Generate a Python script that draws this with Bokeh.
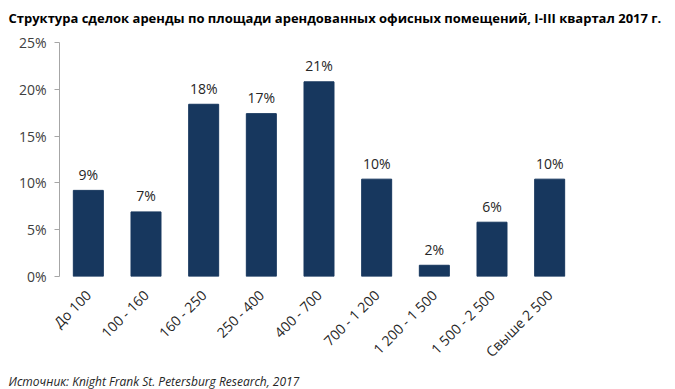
from bokeh.plotting import figure
from bokeh.models import Range1d, FactorRange, Title, PrintfTickFormatter, FixedTicker, ColumnDataSource
from bokeh.core.properties import value
from bokeh.embed import file_html
from bokeh.resources import INLINE
import math

categories = ["До 100", "100 - 160", "160 - 250", "250 - 400", "400 - 700",
              "700 - 1 200", "1 200 - 1 500", "1 500 - 2 500", "Свыше 2 500"]
shares = [9.2, 6.9, 18.4, 17.4, 20.8, 10.4, 1.2, 5.8, 10.4]
share_labels = ["9%", "7%", "18%", "17%", "21%", "10%", "2%", "6%", "10%"]
y_ticks = [0, 5, 10, 15, 20, 25]

title_text = "Структура сделок аренды по площади арендованных офисных помещений, I-III квартал 2017 г."
source_text = "Источник: Knight Frank St. Petersburg Research, 2017"

FONT = "Open Sans"
BAR = "#17375E"

src = ColumnDataSource(dict(cat=categories, val=shares, lab=share_labels))

p = figure(width=675, height=389, x_range=FactorRange(*categories), y_range=Range1d(0, 25.855),
           output_backend="svg", toolbar_location=None,
           min_border_left=59, min_border_right=97, min_border_top=34, min_border_bottom=113)
p.outline_line_color = None
p.xgrid.grid_line_color = None
p.ygrid.grid_line_color = None
p.background_fill_color = "white"
p.border_fill_color = "white"

p.vbar(x="cat", top="val", width=0.52, source=src, fill_color=BAR, line_color=BAR)
p.text(x="cat", y="val", text="lab", source=src, y_offset=-16,
       text_align="center", text_baseline="alphabetic",
       text_font=value(FONT), text_font_size="14px", text_color="#262626")

yax = p.yaxis[0]
yax.ticker = FixedTicker(ticks=y_ticks)
yax.bounds = (0, 25)
yax.formatter = PrintfTickFormatter(format="%d%%")
yax.axis_line_color = "#A6A6A6"
yax.major_tick_line_color = "#A6A6A6"
yax.major_tick_in = 0
yax.major_tick_out = 5
yax.minor_tick_line_color = None
yax.major_label_text_font = FONT
yax.major_label_text_font_size = "14px"
yax.major_label_text_color = "#404040"
yax.major_label_standoff = 8

xax = p.xaxis[0]
xax.axis_line_color = None
xax.major_tick_line_color = None
xax.minor_tick_line_color = None
xax.major_label_orientation = math.pi / 4
xax.major_label_text_font = FONT
xax.major_label_text_font_size = "14px"
xax.major_label_text_color = "#262626"
xax.major_label_standoff = 10

p.add_layout(Title(text=title_text, align="left", offset=-51, standoff=12, vertical_align="top",
                   text_font=FONT, text_font_size="13px", text_font_style="bold",
                   text_color="#000000"), "above")
p.add_layout(Title(text=source_text, align="left", offset=-51, standoff=0,
                   text_font=FONT, text_font_size="12px", text_font_style="italic",
                   text_color="#262626"), "below")

open("out.html", "w").write(file_html(p, INLINE))
